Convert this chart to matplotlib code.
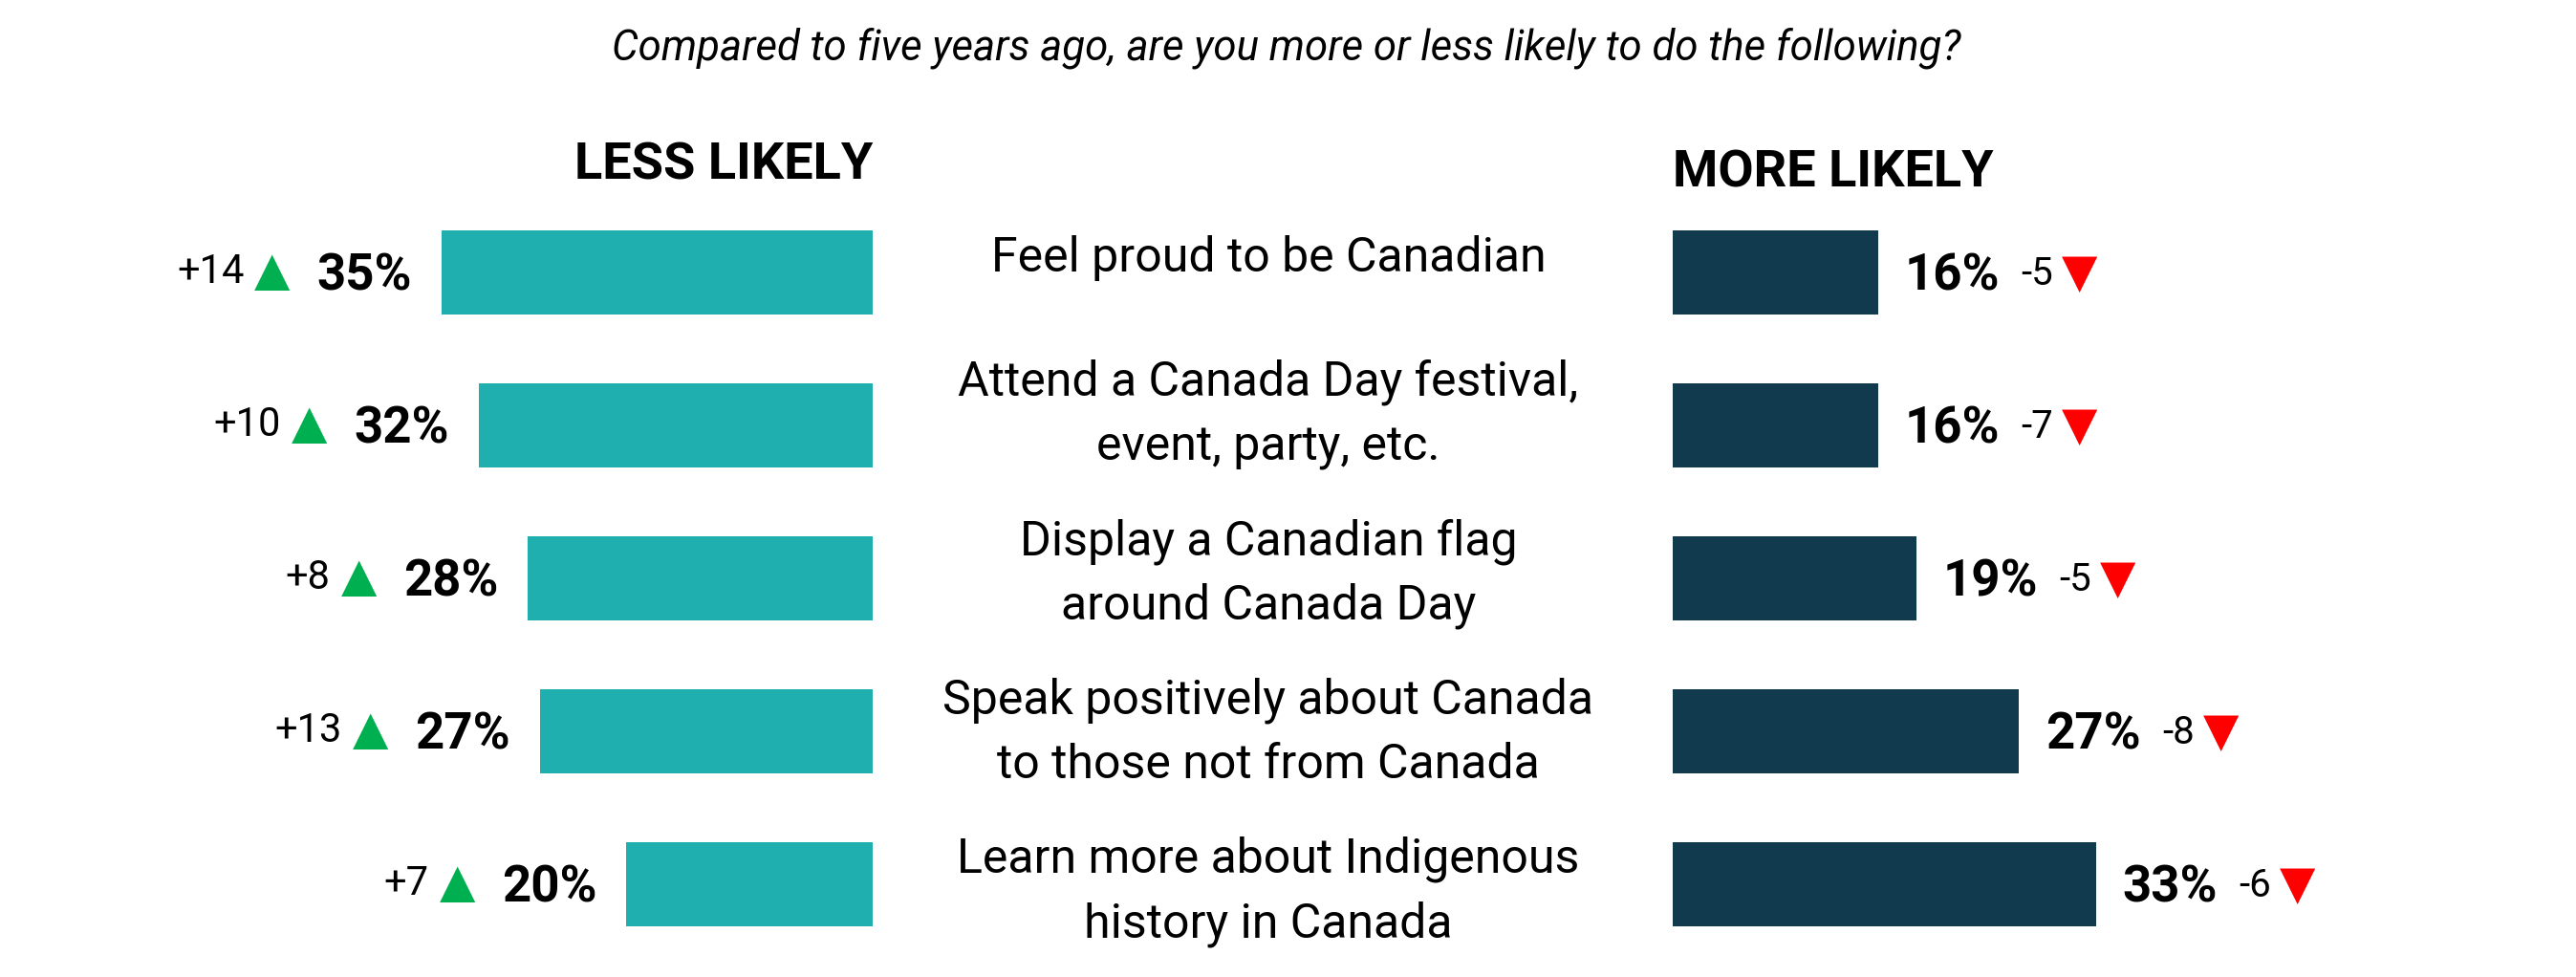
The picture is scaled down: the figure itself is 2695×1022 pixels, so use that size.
import matplotlib
matplotlib.use("Agg")
import matplotlib.pyplot as plt

# -----------------------------
# Data
# -----------------------------
title = "Compared to five years ago, are you more or less likely to do the following?"
activities = [
    "Feel proud to be Canadian",
    "Attend a Canada Day festival,\nevent, party, etc.",
    "Display a Canadian flag\naround Canada Day",
    "Speak positively about Canada\nto those not from Canada",
    "Learn more about Indigenous\nhistory in Canada",
]
less_likely = [35, 32, 28, 27, 20]
less_change = [14, 10, 8, 13, 7]
more_likely = [16, 16, 19, 27, 33]
more_change = [-5, -7, -5, -8, -6]

TEAL = "#1EAFAE"
NAVY = "#113A4F"
GREEN = "#00B050"
RED = "#FF0000"

plt.rcParams["font.family"] = ["Roboto", "DejaVu Sans"]

# -----------------------------
# Figure layout (pixel based)
# -----------------------------
W, H = 2695, 1022
fig = plt.figure(figsize=(W / 100, H / 100), dpi=100)


def fx(px):
    return px / W


def fy(py):
    return 1 - py / H


ax_top, ax_bot = 205, 1005
n = len(activities)

# left panel: bars grow leftwards from x=913px
l_edge = 913
l_scale = 12.88  # px per percentage point
l_start = 150
ax_l = fig.add_axes([fx(l_start), fy(ax_bot), fx(l_edge - l_start), (ax_bot - ax_top) / H])
ax_l.set_xlim((l_edge - l_start) / l_scale, 0)
ax_l.set_ylim(n - 0.5, -0.5)
ax_l.axis("off")

# right panel: bars grow rightwards from x=1750px
r_edge = 1750
r_scale = 13.42
r_width = 800
ax_r = fig.add_axes([fx(r_edge), fy(ax_bot), fx(r_width), (ax_bot - ax_top) / H])
ax_r.set_xlim(0, r_width / r_scale)
ax_r.set_ylim(n - 0.5, -0.5)
ax_r.axis("off")

rows = range(n)
ax_l.barh(rows, less_likely, height=0.55, color=TEAL)
ax_r.barh(rows, more_likely, height=0.55, color=NAVY)

# -----------------------------
# Value labels with changes
# -----------------------------
for i in rows:
    t = ax_l.annotate(f"{less_likely[i]}%", xy=(less_likely[i], i), xytext=(-31, -4),
                      textcoords="offset pixels", ha="right", va="center",
                      fontsize=38, fontweight="bold", color="black")
    tri = ax_l.annotate("\u25B2", xy=(0, 0.5), xycoords=t, xytext=(-28, 5),
                        textcoords="offset pixels", ha="right", va="center",
                        fontsize=35, color=GREEN, family="DejaVu Sans")
    ax_l.annotate(f"+{less_change[i]}", xy=(0, 0.5), xycoords=tri, xytext=(-11, 0),
                  textcoords="offset pixels", ha="right", va="center",
                  fontsize=30, color="black")

    t = ax_r.annotate(f"{more_likely[i]}%", xy=(more_likely[i], i), xytext=(28, -4),
                      textcoords="offset pixels", ha="left", va="center",
                      fontsize=38, fontweight="bold", color="black")
    ch = ax_r.annotate(f"{more_change[i]}", xy=(1, 0.5), xycoords=t, xytext=(22, 3),
                       textcoords="offset pixels", ha="left", va="center",
                       fontsize=29, color="black")
    ax_r.annotate("\u25BC", xy=(1, 0.5), xycoords=ch, xytext=(9, 0),
                  textcoords="offset pixels", ha="left", va="center",
                  fontsize=35, color=RED, family="DejaVu Sans")

# -----------------------------
# Headers, title and activity labels
# -----------------------------
fig.text(fx(l_edge), fy(188), "LESS LIKELY", ha="right", va="baseline",
         fontsize=39, fontweight="bold")
fig.text(fx(r_edge), fy(196), "MORE LIKELY", ha="left", va="baseline",
         fontsize=39, fontweight="bold")
fig.text(fx(1346), fy(63), title, ha="center", va="baseline",
         fontsize=31.5, style="italic")

line_gap = 63
for i, label in enumerate(activities):
    lines = label.count("\n") + 1
    first_base = 252 + 166.3 * i + (2 - lines) * 32
    last_base = first_base + (lines - 1) * line_gap
    fig.text(fx(1327), fy(last_base), label, ha="center", va="baseline",
             fontsize=36, linespacing=1.5, color="black")

fig.savefig("out.png", dpi=100, facecolor="white")
